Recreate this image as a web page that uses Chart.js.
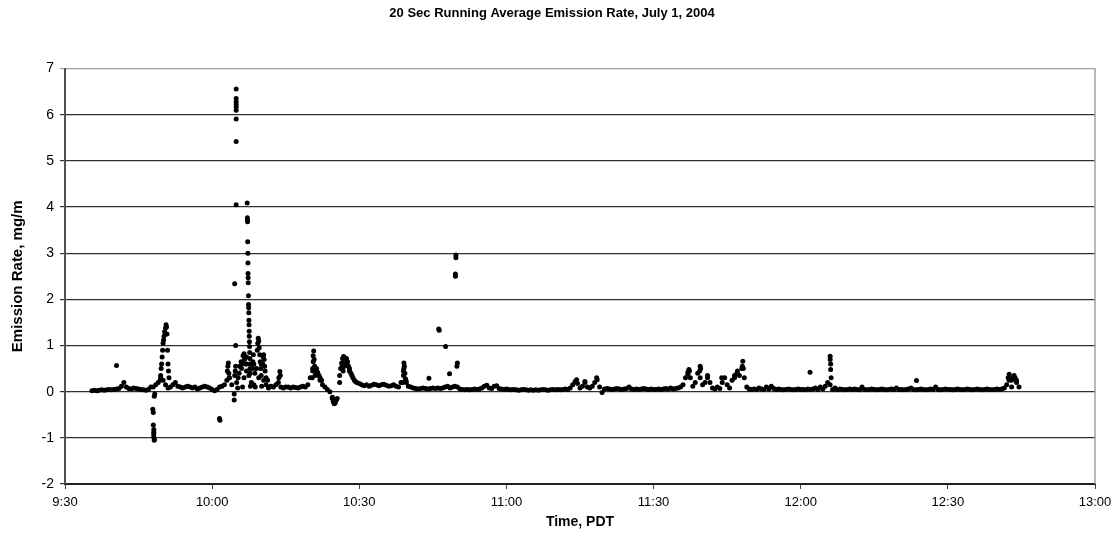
<!DOCTYPE html>
<html>
<head>
<meta charset="utf-8">
<title>20 Sec Running Average Emission Rate</title>
<script src="https://cdn.jsdelivr.net/npm/chart.js@4.4.1/dist/chart.umd.min.js"></script>
<style>
  body { margin: 0; background: #fff; }
  #wrap { width: 1119px; height: 543px; }
</style>
</head>
<body>
<div id="wrap"><canvas id="emission" width="1119" height="543"></canvas></div>
<script>
// time is minutes after 9:30 PDT
var timeLabels = ['9:30', '10:00', '10:30', '11:00', '11:30', '12:00', '12:30', '13:00'];

// steady part of the trace, one reading every half minute from 9:35:30
var baseStart = 5.5;
var baseStep = 0.5;
var baseRate = [
	0.02,0.03,0.02,0.03,0.04,0.03,0.04,0.05,0.04,0.05,              // 9:35:30
	0.06,0.07,0.12,0.2,0.1,0.07,0.06,0.08,0.07,0.06,                // 9:40:30
	0.05,0.04,0.03,0.05,0.1,                                        // 9:45:30
	0.1,0.15,0.2,0.3,0.25,0.15,0.08,                                // 9:48
	0.1,0.15,0.2,0.12,0.1,0.08,0.1,0.12,0.1,0.08,0.1,0.06,          // 9:51:30
	0.08,0.1,0.12,0.1,0.08,0.05,0.02,0.05,0.1,0.12,0.15,0.25,
	0.3,0.15,-0.05,0.2,0.4,0.5,0.3,0.6,0.35,0.2,0.15,0.5,           // 10:03:30
	0.3,0.6,0.25,0.15,0.1,0.12,0.1,0.15,0.2,0.1,0.08,0.1,
	0.1,0.08,0.1,0.09,0.08,0.1,0.12,0.1,0.15,0.3,                   // 10:15:30
	0.45,0.35,0.4,0.25,0.15,0.1,0.05,0.0,-0.12,-0.22,               // 10:20:30
	-0.15,0.2,0.55,0.7,0.6,0.45,0.35,0.25,0.2,0.18,
	0.15,0.13,0.15,0.12,0.14,0.16,0.15,0.13,0.15,0.16,              // 10:30:30
	0.14,0.12,0.13,0.15,0.12,0.1,0.2,0.45,0.25,0.12,
	0.1,0.08,0.07,0.06,0.07,0.08,0.07,0.06,0.07,0.08,               // 10:40:30
	0.07,0.08,0.07,0.08,0.1,0.12,0.08,0.1,0.12,0.1,
	0.06,0.05,0.04,0.05,0.04,0.05,0.06,0.05,0.06,0.08,              // 10:50:30
	0.12,0.14,0.08,0.07,0.12,0.13,0.07,0.06,0.05,0.06,
	0.05,0.04,0.05,0.04,0.03,0.04,0.05,0.04,0.03,0.04,              // 11:00:30
	0.03,0.04,0.03,0.04,0.05,0.04,0.03,0.04,0.05,0.04,
	0.05,0.04,0.05,0.06,0.05,0.08,0.15,0.22,0.18,0.08,              // 11:10:30
	0.12,0.2,0.1,0.08,0.12,0.2,0.26,0.1,-0.02,0.06,
	0.07,0.06,0.05,0.06,0.07,0.06,0.05,0.06,0.07,0.1,               // 11:20:30
	0.06,0.05,0.06,0.05,0.06,0.07,0.06,0.05,0.06,0.05,
	0.05,0.06,0.05,0.06,0.07,0.06,0.08,0.06,0.07,0.08,              // 11:30:30
	0.1,0.15,0.3,0.42,0.3,0.12,0.2,0.4,0.3,0.15,
	0.2,0.3,0.2,0.08,0.06,0.1,0.07,0.2,0.3,0.15,                    // 11:40:30
	0.08,0.25,0.3,0.4,0.35,0.5,0.3,0.1,0.06,0.05,
	0.06,0.05,0.08,0.06,0.05,0.1,0.06,0.12,0.07,0.05,               // 11:50:30
	0.06,0.05,0.04,0.05,0.06,0.05,0.04,0.05,0.06,0.05,
	0.05,0.04,0.06,0.05,0.06,0.08,0.05,0.1,0.06,0.12,               // 12:00:30
	0.2,0.15,0.05,0.08,0.04,0.06,0.05,0.04,0.05,0.06,
	0.05,0.06,0.05,0.04,0.1,0.05,0.04,0.05,0.06,0.05,               // 12:10:30
	0.04,0.05,0.06,0.05,0.04,0.05,0.06,0.05,0.08,0.05,
	0.05,0.04,0.05,0.06,0.08,0.05,0.04,0.05,0.06,0.05,              // 12:20:30
	0.04,0.05,0.06,0.05,0.1,0.05,0.04,0.05,0.06,0.05,
	0.05,0.04,0.05,0.06,0.05,0.04,0.05,0.06,0.05,0.04,              // 12:30:30
	0.05,0.06,0.05,0.04,0.05,0.06,0.05,0.04,0.05,0.06,
	0.05,0.06,0.08,0.15,0.25,0.1,0.3,0.2,0.1                        // 12:40:30
];

// excursions read point by point
var spikeTimes = [
	10.5,
	17.9,18.0,18.0,18.1,18.1,18.1,18.1,18.2,18.2,18.2,18.3,
	19.4,19.5,19.6,19.7,19.8,19.9,20.0,20.1,20.2,20.3,20.5,20.6,20.7,20.8,20.9,21.0,21.1,21.2,
	31.5,31.6,
	33.1,33.2,33.3,33.4,33.5,
	34.5,34.6,34.7,34.8,
	34.6,34.8,34.9,34.9,34.9,34.9,34.9,34.9,34.9,34.9,34.9,
	35.2,35.3,35.6,35.9,36.1,36.2,36.3,36.5,36.6,36.8,37.0,37.0,
	37.15,37.18,37.2,37.22,37.25,37.28,37.3,37.32,37.34,37.36,37.4,37.42,37.44,37.47,37.5,37.52,37.55,37.57,37.6,
	37.62,37.65,37.68,37.7,37.72,37.75,37.8,
	38.2,38.3,38.4,38.5,38.7,38.8,39.0,39.2,39.3,39.4,39.5,39.6,39.7,39.8,39.9,40.0,40.1,
	40.3,40.4,40.5,40.6,40.7,40.8,41.0,41.3,41.5,
	43.6,43.8,43.9,
	50.4,50.5,50.6,50.6,50.7,50.8,50.9,51.0,51.3,51.5,51.8,52.0,52.3,
	54.5,54.7,54.9,55.1,55.3,
	56.0,56.2,56.4,56.5,56.6,56.7,56.8,57.0,57.0,57.2,57.3,57.4,57.6,57.8,58.0,58.3,58.7,59.2,
	68.9,69.0,69.1,69.1,69.2,69.3,69.4,69.6,
	74.2,76.2,76.3,77.6,78.4,
	79.6,79.6,79.7,79.7,79.9,80.0,
	104.3,106.0,108.4,
	127.0,127.2,127.3,129.4,129.5,129.6,
	131.0,133.9,136.5,137.1,138.1,138.2,138.3,
	151.9,
	156.0,156.0,156.1,156.1,156.2,
	173.6,
	192.3,192.5,192.7,193.0,193.5,193.7,194.0
];
var spikeRates = [
	0.57,
	-0.38,-0.45,-0.72,-0.82,-0.88,-0.93,-0.98,-1.02,-1.05,-0.1,-0.05,
	0.25,0.35,0.5,0.6,0.75,0.9,1.05,1.12,1.2,1.3,1.38,1.45,1.4,1.25,0.9,0.6,0.45,0.3,
	-0.58,-0.62,
	0.45,0.55,0.62,0.4,0.3,
	-0.18,0.35,0.45,0.55,
	2.34,1.0,4.05,5.42,5.91,6.1,6.17,6.22,6.28,6.35,6.56,
	0.08,0.3,0.55,0.65,0.6,0.1,0.78,0.82,0.7,0.6,0.75,0.45,
	4.09,3.77,3.72,3.68,3.25,3.0,2.79,2.56,2.47,2.36,2.08,1.89,1.82,1.71,1.55,1.45,1.31,1.2,1.08,
	0.98,0.85,0.72,0.6,0.5,0.4,0.12,
	0.5,0.65,0.8,0.6,0.4,0.1,0.5,0.9,1.05,1.16,1.1,0.95,0.8,0.65,0.5,0.35,0.12,
	0.6,0.75,0.8,0.7,0.55,0.45,0.3,0.25,0.08,
	0.3,0.44,0.35,
	0.3,0.5,0.65,0.78,0.88,0.7,0.55,0.45,0.5,0.42,0.35,0.3,0.25,
	-0.15,-0.22,-0.26,-0.24,-0.18,
	0.35,0.5,0.62,0.5,0.72,0.45,0.76,0.74,0.55,0.7,0.6,0.72,0.65,0.55,0.5,0.4,0.3,0.22,
	0.2,0.35,0.5,0.62,0.55,0.4,0.28,0.2,
	0.29,1.36,1.33,0.98,0.39,
	2.55,2.5,2.96,2.9,0.55,0.62,
	0.26,0.22,0.3,
	0.38,0.48,0.45,0.45,0.55,0.5,
	0.35,0.3,0.35,0.45,0.55,0.66,0.5,
	0.42,
	0.77,0.7,0.6,0.48,0.3,
	0.24,
	0.3,0.38,0.3,0.25,0.35,0.3,0.25
];

var points = [];
for (var i in baseRate) {
	points.push({ x: baseStart + i * baseStep, y: baseRate[i] });
}
for (var j in spikeTimes) {
	points.push({ x: spikeTimes[j], y: spikeRates[j] });
}

var font = 'Arial, "Liberation Sans", sans-serif';

// grey plot-area edge on the right, like the original sheet
var frame = {
	id: 'frame',
	afterDraw: function(chart) {
		var a = chart.chartArea;
		var c = chart.ctx;
		c.save();
		c.strokeStyle = '#a0a0a0';
		c.lineWidth = 1.5;
		c.beginPath();
		c.moveTo(a.right, a.top);
		c.lineTo(a.right, a.bottom);
		c.stroke();
		c.restore();
	}
};

var ctx = document.getElementById('emission');

var emissionChart = new Chart(ctx, {
	type: 'scatter',
	data: {
		datasets: [
			{
				label: 'Emission Rate',
				data: points,
				backgroundColor: '#000',
				borderWidth: 0,
				pointRadius: 2.5,
				pointHoverRadius: 2.5
			}
		]
	},
	options: {
		responsive: false,
		animation: false,
		layout: { padding: { left: 9, right: 24, top: 0, bottom: 0 } },
		plugins: {
			legend: { display: false },
			tooltip: { enabled: false },
			title: {
				display: true,
				text: '20 Sec Running Average Emission Rate, July 1, 2004',
				color: '#000',
				font: { family: font, size: 13, weight: 'bold' },
				padding: { top: 6, bottom: 47 }
			}
		},
		scales: {
			x: {
				type: 'linear',
				min: 0,
				max: 210,
				afterFit: function(scale) { scale.height = 59; },
				ticks: {
					stepSize: 30,
					color: '#000',
					font: { family: font, size: 13 },
					padding: 6,
					maxRotation: 0,
					callback: function(value) { return timeLabels[value / 30]; }
				},
				grid: {
					drawOnChartArea: false,
					drawTicks: true,
					tickLength: 5,
					color: '#404040'
				},
				border: { color: '#202020', width: 2 },
				title: {
					display: true,
					text: 'Time, PDT',
					color: '#000',
					font: { family: font, size: 14, weight: 'bold' },
					padding: { top: 4, bottom: 12 }
				}
			},
			y: {
				min: -2,
				max: 7,
				afterFit: function(scale) { scale.width = 56; },
				ticks: {
					stepSize: 1,
					color: '#000',
					font: { family: font, size: 14 },
					padding: 6
				},
				grid: {
					tickLength: 5,
					lineWidth: 1.2,
					color: function(c) {
						return c.tick && c.tick.value === 7 ? '#a0a0a0' : '#303030';
					}
				},
				border: { color: '#505050', width: 2 },
				title: {
					display: true,
					text: 'Emission Rate, mg/m',
					color: '#000',
					font: { family: font, size: 15, weight: 'bold' },
					padding: { top: 0, bottom: 4 }
				}
			}
		}
	},
	plugins: [frame]
});
</script>
</body>
</html>
